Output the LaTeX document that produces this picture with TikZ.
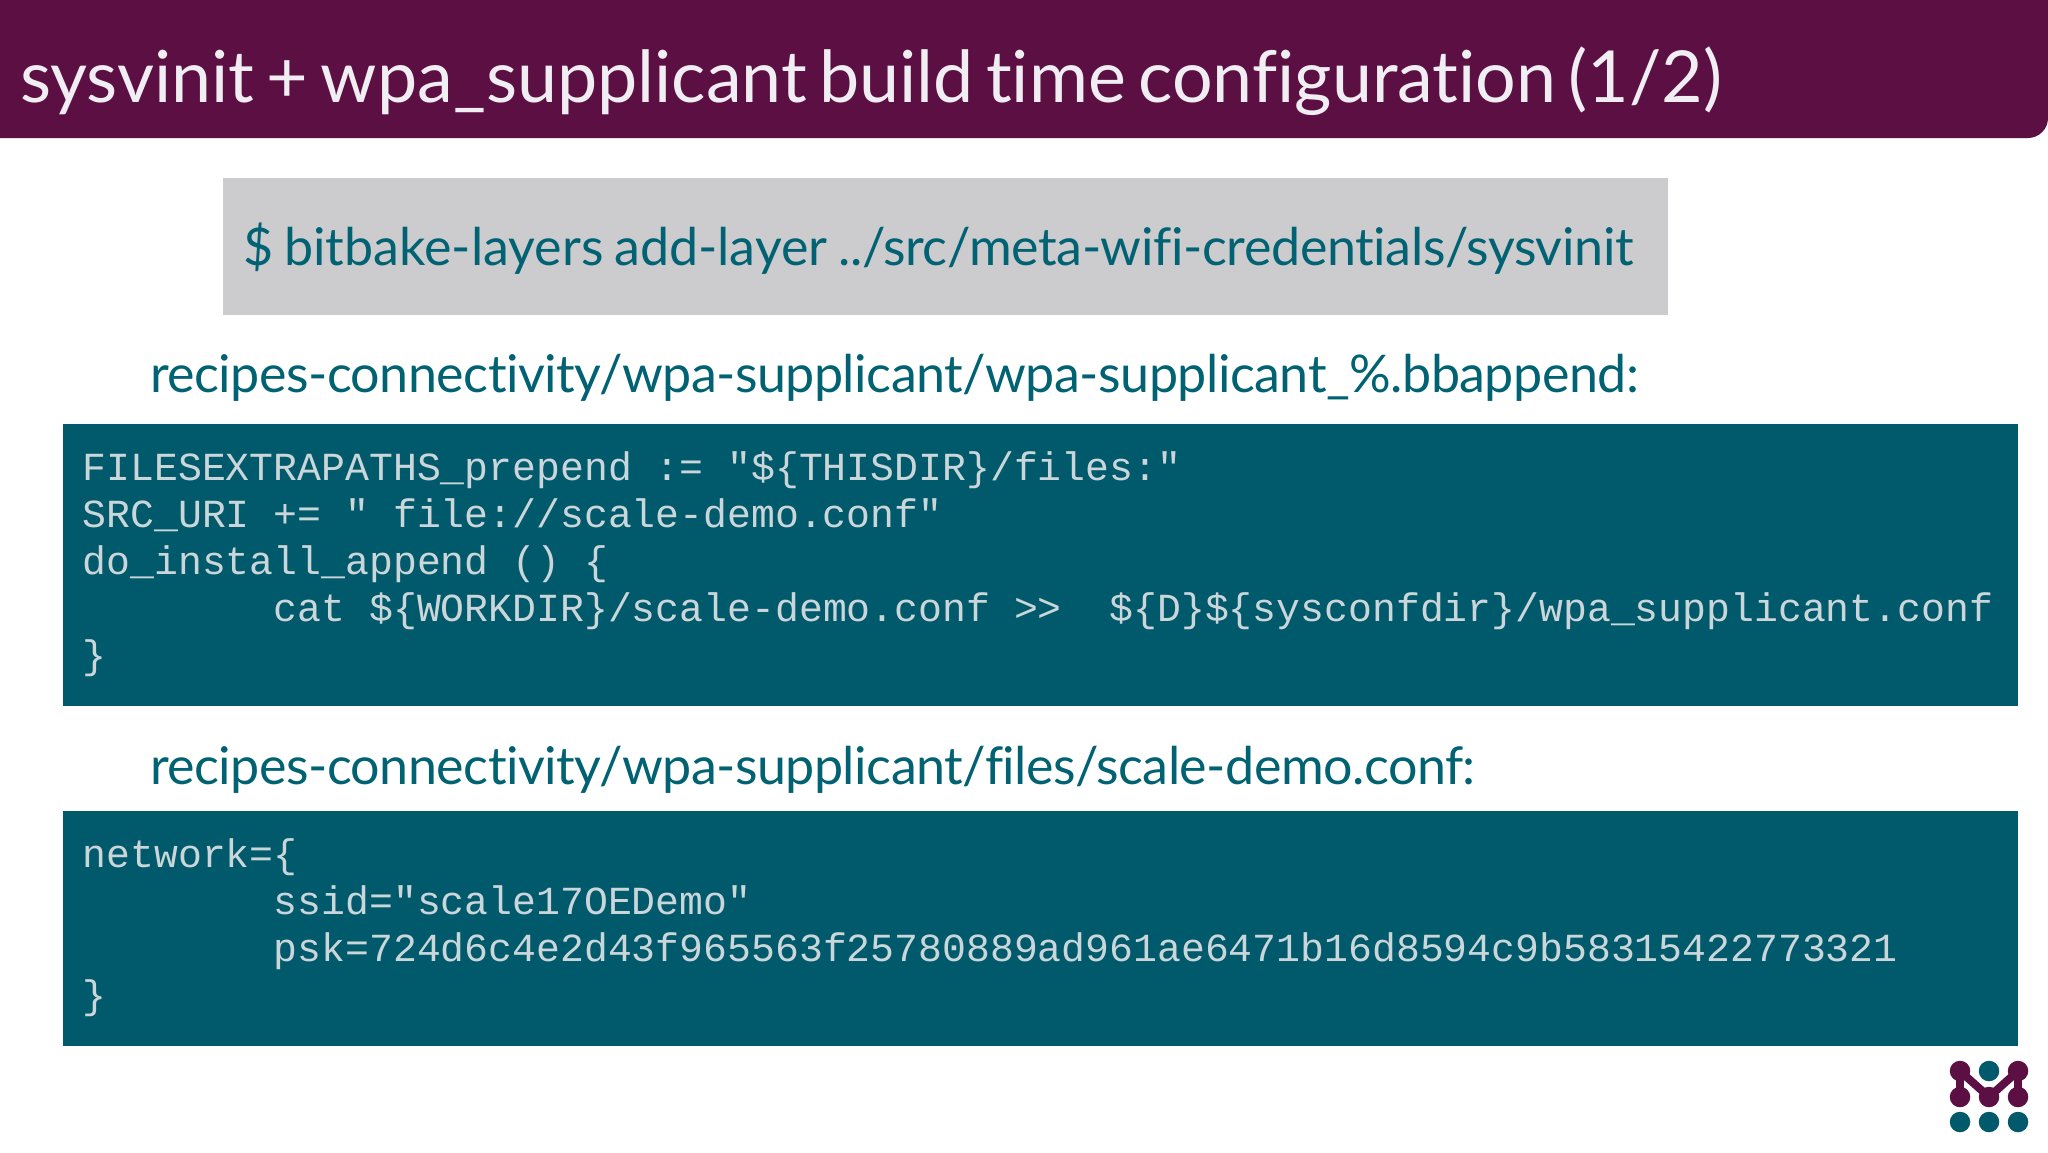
\documentclass[tikz,border=0pt]{standalone}
\usepackage{fontspec}
\setmainfont{Lato}[Ligatures=NoCommon,WordSpace=0.67]
\newfontfamily\codefont{Liberation Mono}
\newfontfamily\pathfont{Lato}[Ligatures=NoCommon,LetterSpace=-1.0]
\newfontfamily\cmdtail{Lato}[Ligatures=NoCommon,LetterSpace=-0.75]
\newfontfamily\cmdhead{Lato}[Ligatures=NoCommon,WordSpace=0.8]
\definecolor{plum}{HTML}{5C0F43}
\definecolor{teal}{HTML}{005A6B}
\definecolor{pathteal}{HTML}{006272}
\definecolor{graybox}{HTML}{CCCBCD}
\definecolor{codetext}{HTML}{CAD6D9}
\definecolor{titletext}{HTML}{F0EDF3}
\tikzset{
  panel/.style={fill=#1,draw=none,inner sep=0pt,anchor=north west},
  txt/.style={anchor=base west,inner sep=0pt,outer sep=0pt},
  pathtxt/.style={txt,text=pathteal,font=\pathfont\fontsize{52}{60}\selectfont},
  codeblock/.style={anchor=base west,inner sep=0pt,align=left,text=codetext,
     font=\codefont\fontsize{39.8}{47}\selectfont},
  dot/.style={circle,inner sep=0pt,minimum size=20.5pt,fill=#1},
  link/.style={draw=plum,line width=8pt},
}
\begin{document}
\begin{tikzpicture}[x=1pt,y=-1pt]
\useasboundingbox (0,0) rectangle (2048,1152);
\fill[white] (0,0) rectangle (2048,1152);
% header
\fill[plum] (0,0) -- (2048,0) -- (2048,118) .. controls (2048,129) and (2039,138) .. (2028,138) -- (0,138) -- cycle;
\node[txt,text=titletext,font=\fontsize{71.75}{80}\selectfont] (title) at (20,102) {sysvinit + wpa\_supplicant build time configuration (1/2)};
% command
\node[panel=graybox,minimum width=1445pt,minimum height=137pt] (cmdbox) at (223,178) {};
\node[txt,text=pathteal,font=\cmdhead\fontsize{52}{60}\selectfont] (cmd) at (243.5,265) {\$ bitbake-layers add-layer {\cmdtail ../src/meta-wifi-credentials/sysvinit}};
% first
\node[pathtxt] (path1) at (150,392) {recipes-connectivity/wpa-supplicant/wpa-supplicant\_\%.bbappend:};
\node[panel=teal,minimum width=1955.5pt,minimum height=282pt] (code1box) at (62.5,423.5) {};
\node[codeblock] (code1) at (82.5,668.3) {FILESEXTRAPATHS\_prepend~:=~"\$\{THISDIR\}/files:"\\
SRC\_URI~+=~"~file://scale-demo.conf"\\
do\_install\_append~()~\{\\
~~~~~~~~cat~\$\{WORKDIR\}/scale-demo.conf~>>~~\$\{D\}\$\{sysconfdir\}/wpa\_supplicant.conf\\
\}};
% second
\node[pathtxt] (path2) at (150,784) {recipes-connectivity/wpa-supplicant/files/scale-demo.conf:};
\node[panel=teal,minimum width=1955.5pt,minimum height=235pt] (code2box) at (62.5,810.5) {};
\node[codeblock] (code2) at (82.5,1008.3) {network=\{\\
~~~~~~~~ssid="scale17OEDemo"\\
~~~~~~~~psk=724d6c4e2d43f965563f25780889ad961ae6471b16d8594c9b58315422773321\\
\}};
% logo
\foreach \n/\x/\y/\c in {a/1960/1071/plum,b/1989/1071/teal,c/2018/1071/plum,d/1960/1097/plum,e/1989/1097/plum,f/2018/1097/plum,g/1960/1122/teal,h/1989/1122/teal,i/2018/1122/teal}
  \node[dot=\c] (\n) at (\x,\y) {};
\draw[link] (a.center) -- (d.center);
\draw[link] (c.center) -- (f.center);
\draw[link] (a.center) -- (e.center) -- (c.center);
\end{tikzpicture}
\end{document}
